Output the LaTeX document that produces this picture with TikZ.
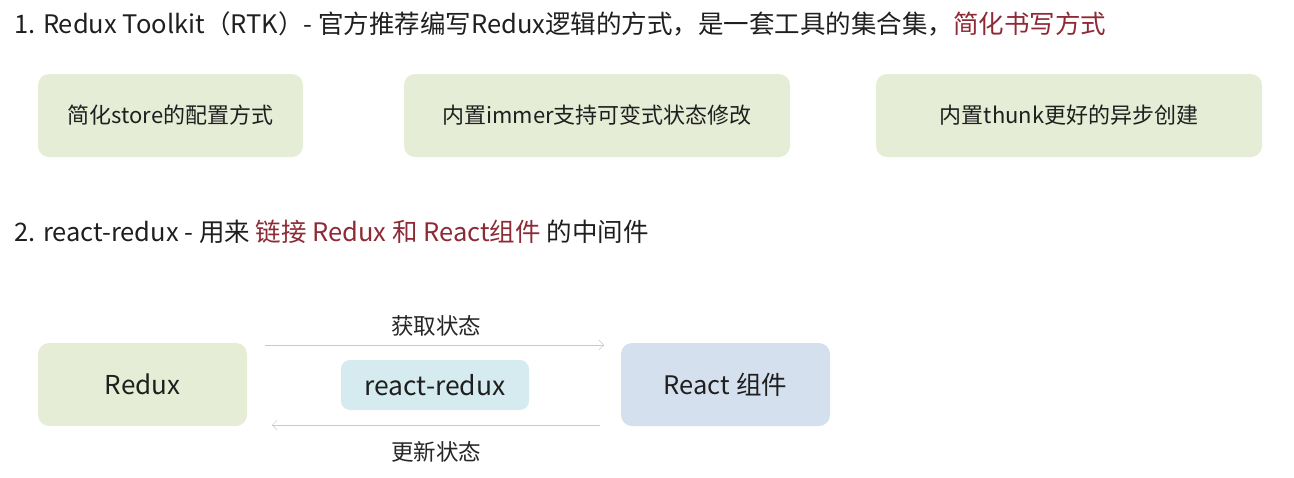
\documentclass[tikz,border=0pt]{standalone}
\usepackage{fontspec}
\setmainfont{Noto Sans CJK SC}
\usepackage{tikz}
\usetikzlibrary{arrows.meta}
\definecolor{boxgreen}{HTML}{E6EDD6}
\definecolor{boxcyan}{HTML}{D5EBF0}
\definecolor{boxblue}{HTML}{D4E0EE}
\definecolor{hint}{HTML}{8E2A35}
\definecolor{flow}{HTML}{C9C9C9}

\begin{document}
\begin{tikzpicture}[x=1pt,y=-1pt,
		title/.style={anchor=west, inner sep=0pt, text=black!88, font=\fontsize{25.5}{28}\selectfont},
		box/.style={rounded corners=11pt, minimum height=83pt, text=black!88, font=\fontsize{22}{25}\selectfont},
		flowlabel/.style={text=black!85, font=\fontsize{22.5}{25}\selectfont},
		flowline/.style={draw=flow, thin, -{Straight Barb[length=5pt,width=10pt]}}]
	\useasboundingbox (0,0) rectangle (1294,477);
	% part 1
	\node[title] (title1) at (14,24) {1. Redux Toolkit（RTK）- 官方推荐编写Redux逻辑的方式，是一套工具的集合集，{\color{hint}简化书写方式}};
	\node[box, fill=boxgreen, minimum width=265pt] (store) at (170.5,115.5) {简化store的配置方式};
	\node[box, fill=boxgreen, minimum width=386pt] (immer) at (597,115.5) {内置immer支持可变式状态修改};
	\node[box, fill=boxgreen, minimum width=386pt] (thunk) at (1069,115.5) {内置thunk更好的异步创建};
	% part 2
	\node[title] (title2) at (14,232) {2. react-redux - 用来 {\color{hint}链接 Redux 和 React组件} 的中间件};
	\node[box, fill=boxgreen, minimum width=209pt, font=\fontsize{26}{29}\selectfont] (redux) at (142.5,384.5) {Redux};
	\node[box, fill=boxcyan, minimum width=188pt, minimum height=50pt, rounded corners=9pt, font=\fontsize{26.5}{29}\selectfont] (rr) at (435,385) {react-redux};
	\node[box, fill=boxblue, minimum width=209pt, font=\fontsize{25.5}{29}\selectfont] (react) at (725.5,384.5) {React 组件};
	% flows
	\coordinate (get0) at (265,345);
	\coordinate (get1) at (604,345);
	\coordinate (set0) at (600,425);
	\coordinate (set1) at (272,425);
	\draw[flowline] (get0) -- (get1);
	\draw[flowline] (set0) -- (set1);
	\node[flowlabel] (getlabel) at (436,326) {获取状态};
	\node[flowlabel] (setlabel) at (436,452) {更新状态};
\end{tikzpicture}
\end{document}
